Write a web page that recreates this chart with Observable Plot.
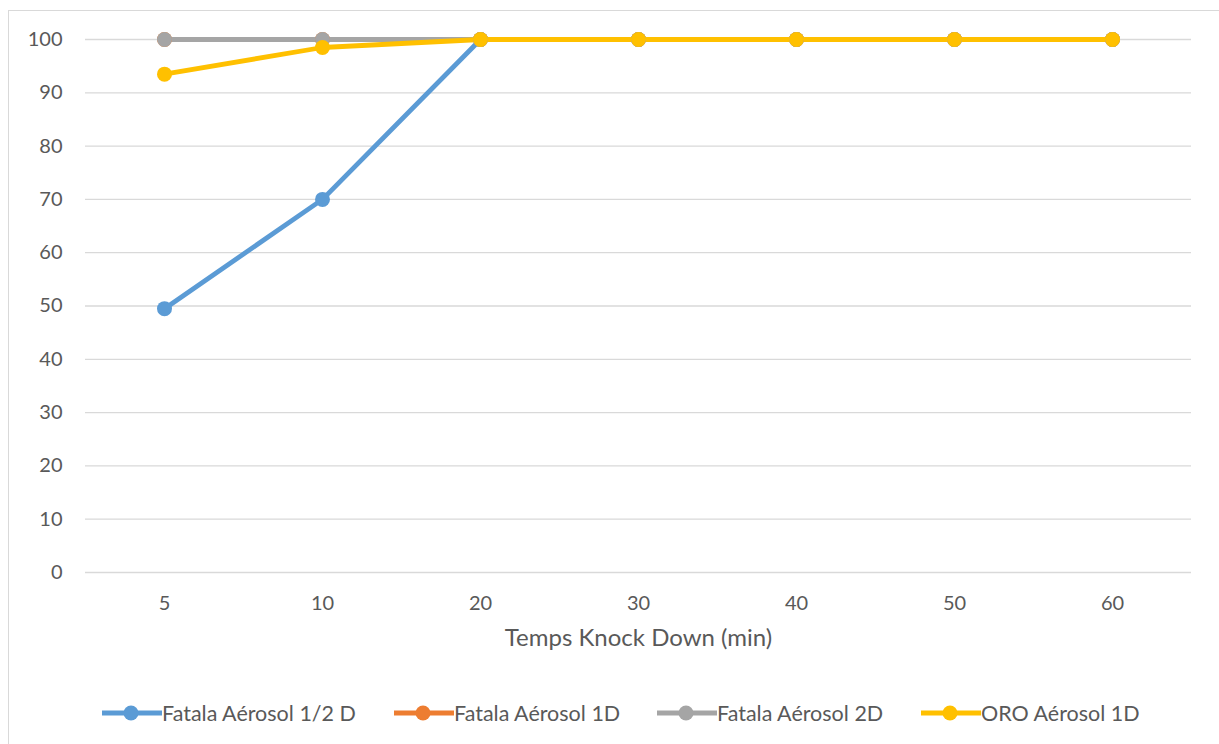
<!DOCTYPE html>
<html>
<head>
<meta charset="utf-8">
<script src="https://cdn.jsdelivr.net/npm/d3@7"></script>
<script src="https://cdn.jsdelivr.net/npm/@observablehq/plot@0.6"></script>
<style>
  html, body { margin: 0; padding: 0; background: #fff; }
  body { width: 1219px; height: 744px; overflow: hidden; position: relative; font-family: Lato, "Open Sans", sans-serif; }
  #frame { position: absolute; left: 8px; top: 10px; width: 1240px; height: 760px; border: 1px solid #d9d9d9; box-sizing: border-box; }
  #chart { position: absolute; left: 0; top: 0; }
  #legend { position: absolute; top: 701px; left: 0; width: 1219px; height: 24px; }
  .item { position: absolute; display: flex; align-items: center; font-size: 21.5px; color: #595959; white-space: nowrap; height: 24px; }
  .item svg { display: block; margin-right: 0; }
</style>
</head>
<body>
<div id="frame"></div>
<div id="chart"></div>
<div id="legend"></div>
<script>
// Knock-down time categories (minutes)
const times = ["5", "10", "20", "30", "40", "50", "60"];

// Knock-down percentage per product
const fatalaHalfD = [49.5, 70, 100, 100, 100, 100, 100];
const fatala1D    = [100, 100, 100, 100, 100, 100, 100];
const fatala2D    = [100, 100, 100, 100, 100, 100, 100];
const oro1D       = [93.5, 98.5, 100, 100, 100, 100, 100];

const seriesNames = ["Fatala Aérosol 1/2 D", "Fatala Aérosol 1D", "Fatala Aérosol 2D", "ORO Aérosol 1D"];
const seriesValues = [fatalaHalfD, fatala1D, fatala2D, oro1D];
const seriesColors = ["#5B9BD5", "#ED7D31", "#A5A5A5", "#FFC000"];

const yTicks = [0, 10, 20, 30, 40, 50, 60, 70, 80, 90, 100];

const rows = seriesNames.flatMap((name, i) =>
  times.map((t, j) => ({series: name, time: t, value: seriesValues[i][j]}))
);

const font = "Lato, 'Open Sans', sans-serif";

const chart = Plot.plot({
  width: 1219,
  height: 690,
  marginLeft: 85,
  marginRight: 28,
  marginTop: 39,
  marginBottom: 118,
  style: {fontFamily: font, fontSize: "20px", color: "#595959", background: "transparent", overflow: "visible"},
  x: {type: "point", domain: times, padding: 0.5, label: null},
  y: {domain: [0, 100], label: null},
  color: {domain: seriesNames, range: seriesColors},
  marks: [
    Plot.gridY(yTicks, {stroke: "#d9d9d9", strokeOpacity: 1, strokeWidth: 1.3}),
    Plot.axisY(yTicks, {tickSize: 0, tickPadding: 23, fill: "#595959", fontSize: 20, label: null}),
    Plot.axisX({tickSize: 0, tickPadding: 23, fill: "#595959", fontSize: 20, label: null}),
    Plot.text(["Temps Knock Down (min)"], {
      frameAnchor: "bottom", dy: 73, fill: "#595959", fontSize: 24
    }),
    ...seriesNames.map((name, i) =>
      Plot.line(rows.filter(d => d.series === name), {
        x: "time", y: "value", stroke: seriesColors[i], strokeWidth: 4.8, curve: "linear"
      })
    ),
    ...seriesNames.map((name, i) =>
      Plot.dot(rows.filter(d => d.series === name), {
        x: "time", y: "value", fill: seriesColors[i], r: 7.5, stroke: "none"
      })
    )
  ]
});
document.getElementById("chart").appendChild(chart);

// Legend: line-with-marker swatch followed by series name
const legendX = [102, 394, 657, 921];
const legend = document.getElementById("legend");
seriesNames.forEach((name, i) => {
  const item = document.createElement("div");
  item.className = "item";
  item.style.left = legendX[i] + "px";
  item.innerHTML =
    `<svg width="60" height="24"><line x1="0" y1="12" x2="60" y2="12" stroke="${seriesColors[i]}" stroke-width="4.8"/>` +
    `<circle cx="29" cy="12" r="7.5" fill="${seriesColors[i]}"/></svg><span>${name}</span>`;
  legend.appendChild(item);
});
</script>
</body>
</html>
